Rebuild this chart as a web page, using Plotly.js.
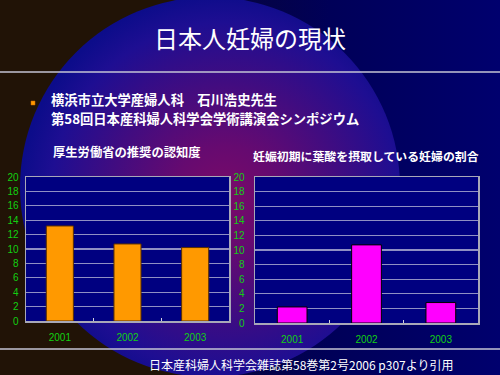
<!DOCTYPE html>
<html>
<head>
<meta charset="utf-8">
<script src="https://cdn.plot.ly/plotly-3.0.1.min.js"></script>
<style>
  html, body { margin:0; padding:0; width:500px; height:375px; overflow:hidden; background:#211306; }
  #wrap { position:relative; width:500px; height:375px; overflow:hidden;
          background: linear-gradient(to right, #211306 0px, #211306 185px, #06043c 215px, #000058 330px, #00006e 500px); }
  #circle { position:absolute; left:20px; top:-3px; width:380px; height:380px; border-radius:50%;
            background: radial-gradient(circle 205px at 205px 200px, #7a0a68 0%, #660a70 25%, #420c80 55%, #1e0e92 85%, #0c0c8a 100%); }
  #chart { position:absolute; left:0; top:0; width:500px; height:375px; }
</style>
</head>
<body>
<div id="wrap"><div id="circle"></div><div id="chart"></div></div>
<script>
// ---- data ----
const years = ['2001', '2002', '2003'];
const awarenessPct = [13.2, 10.7, 10.2];      // 厚生労働省の推奨の認知度
const folicIntakePct = [2.2, 10.7, 2.8];      // 妊娠初期に葉酸を摂取している妊婦の割合
const yTickVals = [0, 2, 4, 6, 8, 10, 12, 14, 16, 18, 20];

const titleText = '日本人妊婦の現状';
const bulletLine1 = '横浜市立大学産婦人科　石川浩史先生';
const bulletLine2 = '第58回日本産科婦人科学会学術講演会シンポジウム';
const chart1Title = '厚生労働省の推奨の認知度';
const chart2Title = '妊娠初期に葉酸を摂取している妊婦の割合';
const sourceText = '日本産科婦人科学会雑誌第58巻第2号2006 p307より引用';

// ---- helpers (pixel -> paper) ----
const W = 500, H = 375;
const px = x => x / W;
const py = y => 1 - y / H;

const JP = '"Noto Sans CJK JP", "Noto Sans", sans-serif';
const GREEN = '#12d012';

const traces = [
  { type:'bar', x: years, y: awarenessPct, xaxis:'x', yaxis:'y', width:0.4,
    marker:{ color:'#ff9900', line:{ color:'#5a3000', width:1 } }, hoverinfo:'skip' },
  { type:'bar', x: years, y: folicIntakePct, xaxis:'x2', yaxis:'y2', width:0.4,
    marker:{ color:'#ff00ff', line:{ color:'#000000', width:1 } }, hoverinfo:'skip' }
];

function xAxis(domain, anchor) {
  return { domain, anchor, type:'category', showline:true, linecolor:'#a8a8b8', linewidth:1.5,
           mirror:true, ticks:'inside', tickson:'boundaries', ticklen:3, tickcolor:'#d0d0e0',
           ticklabelstandoff: 6,
           tickfont:{ family:'"Liberation Sans", Arial, sans-serif', size:10, color:GREEN },
           showgrid:false, zeroline:false, fixedrange:true };
}
function yAxis(domain, anchor, standoff) {
  return { domain, anchor, range:[0,20], tickvals: yTickVals, showline:true, linecolor:'#a8a8b8',
           linewidth:1.5, mirror:true, ticks:'', gridcolor:'#9090c4', gridwidth:1.2,
           ticklabelstandoff: standoff,
           tickfont:{ family:'"Liberation Sans", Arial, sans-serif', size:10, color:GREEN },
           zeroline:false, fixedrange:true };
}

const ann = (text, x, y, size, opts={}) => Object.assign({
  text, xref:'paper', yref:'paper', x: px(x), y: py(y), showarrow:false,
  xanchor:'left', yanchor:'middle',
  font:{ family: JP, size, color:'#ffffff' }
}, opts);

const layout = {
  width: W, height: H,
  margin:{ l:0, r:0, t:0, b:0 },
  paper_bgcolor:'rgba(0,0,0,0)',
  plot_bgcolor:'#000080',
  showlegend:false,
  xaxis: xAxis([px(26), px(229)], 'y'),
  yaxis: yAxis([py(321), py(177)], 'x', 4),
  xaxis2: xAxis([px(255), px(478)], 'y2'),
  yaxis2: yAxis([py(323), py(177)], 'x2', 7),
  shapes: [
    { type:'line', xref:'paper', yref:'paper', x0:0, x1:1, y0:py(72), y1:py(72),
      line:{ color:'#c4c4d4', width:1.5 } },
    { type:'line', xref:'paper', yref:'paper', x0:0, x1:1, y0:py(349), y1:py(349),
      line:{ color:'#c4c4d4', width:1.5 } },
    { type:'rect', xref:'paper', yref:'paper', x0:px(31), x1:px(35), y0:py(101), y1:py(105),
      fillcolor:'#ff9900', line:{ color:'#cc6600', width:0.5 } }
  ],
  annotations: [
    ann(titleText, 250, 37, 24, { xanchor:'center' }),
    ann('<b>' + bulletLine1 + '</b>', 49, 100, 13.3),
    ann('<b>' + bulletLine2 + '</b>', 49, 118, 13.3),
    ann('<b>' + chart1Title + '</b>', 51, 152, 12.3),
    ann('<b>' + chart2Title + '</b>', 251, 156, 11.9),
    ann(sourceText, 147, 364, 12)
  ]
};

Plotly.newPlot('chart', traces, layout, { staticPlot:true, displayModeBar:false });
</script>
</body>
</html>
